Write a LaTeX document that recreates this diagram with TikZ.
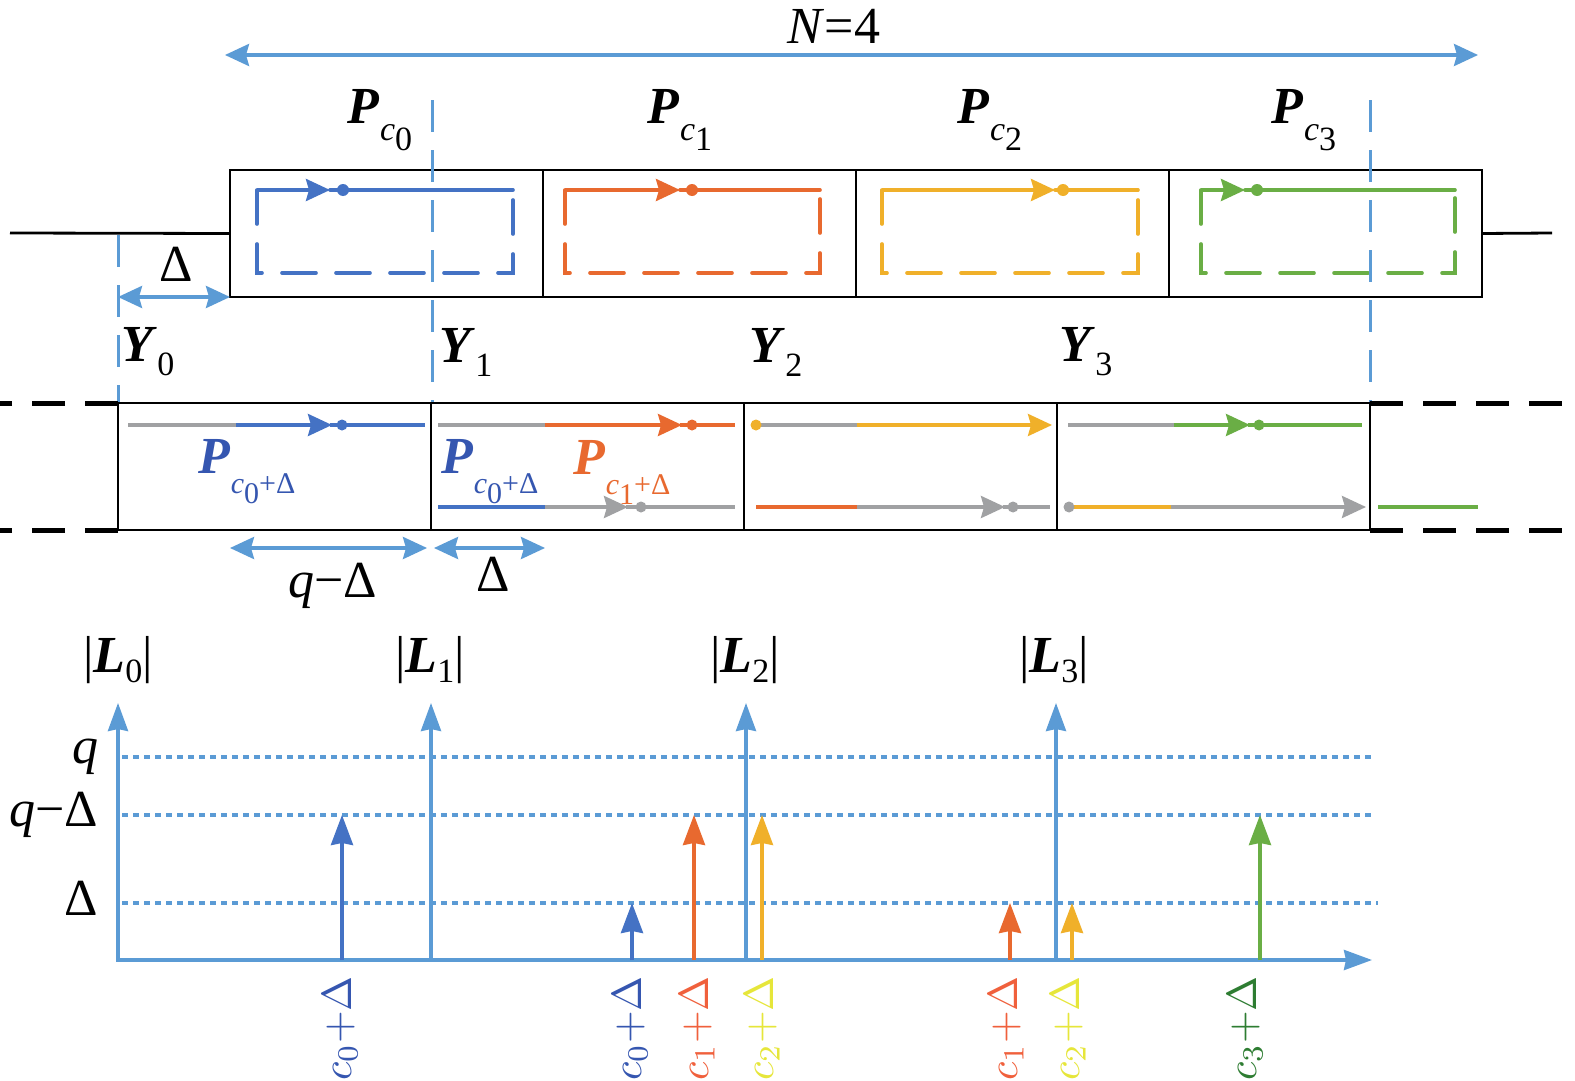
\documentclass[tikz,border=0pt]{standalone}
\usepackage{graphicx}
\usepackage[no-math]{fontspec}
\setmainfont{Liberation Serif}
\usetikzlibrary{arrows.meta}
\definecolor{axb}{HTML}{5B9BD5}
\definecolor{pb}{HTML}{4472C4}
\definecolor{po}{HTML}{E8692F}
\definecolor{py}{HTML}{F0B02A}
\definecolor{pg}{HTML}{6AAE45}
\definecolor{pgr}{HTML}{A0A1A3}
\definecolor{tb}{HTML}{3556B0}
\definecolor{tor}{HTML}{F0603C}
\definecolor{ty}{HTML}{E6E63A}
\definecolor{tg}{HTML}{2E7D32}
\newcommand\fA{\fontsize{52}{60}\selectfont}
\newcommand\fB{\fontsize{34}{40}\selectfont}
\newcommand\fC{\fontsize{30}{36}\selectfont}
\newcommand\bPc[1]{{\fA\textbf{\textit{P}}}\raisebox{-17pt}{\fB\textit{c}\raisebox{-10pt}{#1}}}
\newcommand\bPcd[1]{{\fA\textbf{\textit{P}}}\raisebox{-20pt}{\fC\textit{c}\raisebox{-10pt}{#1}+Δ}}
\newcommand\bY[1]{{\fA\textbf{\textit{Y}}}\raisebox{-14pt}{\fB #1}}
\newcommand\bL[1]{{\fA|\textbf{\textit{L}}\raisebox{-10pt}{\fB #1}|}}
\newcommand\cd[1]{\scalebox{4.2}{\fontsize{10}{12}\selectfont$c_{#1}{+}\Delta$}}
\tikzset{
  boxn/.style={draw=black, line width=2.8pt, minimum width=313pt, minimum height=127pt, anchor=north west, inner sep=0pt, outer sep=0pt},
  vdash/.style={draw=axb, line width=3pt, dash pattern=on 32pt off 18pt},
  bdash/.style={draw=black, line width=5pt, dash pattern=on 33pt off 20pt},
  tipA/.style={-{Stealth[length=24pt,width=22pt,inset=3pt]}},
  tipAx/.style={-{Stealth[length=28pt,width=20pt,inset=2pt]}},
  tipDbl/.style={{Stealth[length=24pt,width=22pt,inset=3pt]}-{Stealth[length=24pt,width=22pt,inset=3pt]}},
  inl/.style={line width=3.6pt},
  midl/.style={line width=3.4pt},
  axl/.style={draw=axb, line width=3.4pt},
  dotl/.style={draw=axb, line width=4pt, dash pattern=on 6pt off 5pt},
  lbl/.style={inner sep=0pt, outer sep=0pt},
}
\begin{document}
\begin{tikzpicture}[x=1pt,y=-1pt]
\useasboundingbox[fill=white] (0,0) rectangle (1575,1081);

% ---------- top N=4 arrow ----------
\coordinate (nL) at (225,55);
\coordinate (nR) at (1478,55);
\draw[axl, tipDbl] (nL) -- (nR);
\node[lbl] (N4) at (834,26) {\fA\textit{N}=4};

% ---------- top boxes ----------
\node[boxn] (T0) at (230,170) {};
\node[boxn] (T1) at (543,170) {};
\node[boxn] (T2) at (856,170) {};
\node[boxn] (T3) at (1169,170) {};
\coordinate (hl) at (10,233);
\coordinate (hr) at (1552,233);
\draw[black, line width=2.8pt] (hl) -- (T0.west);
\draw[black, line width=2.8pt] (T3.east) -- (hr);

\node[lbl] (Pc0) at (380,120) {\bPc{0}};
\node[lbl] (Pc1) at (680,120) {\bPc{1}};
\node[lbl] (Pc2) at (990,120) {\bPc{2}};
\node[lbl] (Pc3) at (1304,120) {\bPc{3}};

% inner loops
\foreach \xa/\xb/\xt/\xd/\col in {257/513/330/343/pb, 565/820/680/692/po, 882/1138/1055/1063/py, 1201/1455/1245/1257/pg}{
  \draw[\col, inl, dash pattern=on 34pt off 20pt, line cap=round] (\xa,190) -- (\xa,273) -- (\xb,273) -- (\xb,190);
  \draw[\col, inl, line cap=round] (\xb,190) -- (\xt,190);
  \draw[\col, inl, tipA] (\xa,190) -- (\xt,190);
  \fill[\col] (\xd,190) circle (6pt);
}

% vertical dashed blue lines
\coordinate (v0a) at (118,235);
\coordinate (v1a) at (432,100);
\coordinate (v4a) at (1370,100);
\draw[vdash] (v0a) -- (118,403);
\draw[vdash] (v1a) -- (432,403);
\draw[vdash] (v4a) -- (1370,403);

% Delta arrow
\draw[axl, tipDbl] (118,297) -- (T0.south west);
\node[lbl] (dl1) at (176,264) {\fA Δ};

% ---------- middle ----------
\node[lbl] (Y0) at (148,352) {\bY{0}};
\node[lbl] (Y1) at (466,352) {\bY{1}};
\node[lbl] (Y2) at (776,352) {\bY{2}};
\node[lbl] (Y3) at (1086,352) {\bY{3}};

\node[boxn] (M0) at (118,403) {};
\node[boxn] (M1) at (431,403) {};
\node[boxn] (M2) at (744,403) {};
\node[boxn] (M3) at (1057,403) {};

\draw[bdash] (M0.north west) -- (0,403);
\draw[bdash] (M0.south west) -- (0,530);
\draw[bdash] (M3.north east) -- (1565,403);
\draw[bdash] (M3.south east) -- (1565,530);

% upper lines
\draw[pgr, midl] (128,425) -- (237,425);
\draw[pb, midl, tipA] (236,425) -- (332,425);
\draw[pb, midl] (330,425) -- (425,425);
\fill[pb] (342,425) circle (5.5pt);

\draw[pgr, midl] (438,425) -- (546,425);
\draw[po, midl, tipA] (545,425) -- (682,425);
\draw[po, midl] (680,425) -- (735,425);
\fill[po] (692,425) circle (5.5pt);

\draw[pgr, midl] (755,425) -- (858,425);
\draw[py, midl, tipA] (857,425) -- (1052,425);
\fill[py] (756,425) circle (5.5pt);

\draw[pgr, midl] (1068,425) -- (1175,425);
\draw[pg, midl, tipA] (1174,425) -- (1250,425);
\draw[pg, midl] (1248,425) -- (1362,425);
\fill[pg] (1259,425) circle (5.5pt);

% lower lines
\draw[pb, midl] (438,507) -- (546,507);
\draw[pgr, midl, tipA] (545,507) -- (628,507);
\draw[pgr, midl] (626,507) -- (735,507);
\fill[pgr] (641,507) circle (5.5pt);

\draw[po, midl] (756,507) -- (858,507);
\draw[pgr, midl, tipA] (857,507) -- (1005,507);
\draw[pgr, midl] (1003,507) -- (1050,507);
\fill[pgr] (1013,507) circle (5.5pt);

\draw[py, midl] (1070,507) -- (1172,507);
\draw[pgr, midl, tipA] (1171,507) -- (1366,507);
\fill[pgr] (1069,507) circle (5.5pt);

\draw[pg, midl] (1378,507) -- (1478,507);

\node[lbl, text=tb] (Pd0) at (247,472) {\bPcd{0}};
\node[lbl, text=tb] (Pd1) at (490,472) {\bPcd{0}};
\node[lbl, text=po] (Pd2) at (622,472) {\bPcd{1}};

% under arrows
\draw[axl, tipDbl] (230,548) -- (427,548);
\draw[axl, tipDbl] (434,548) -- (545,548);
\node[lbl] (qd) at (333,586) {\fA\textit{q}−Δ};
\node[lbl] (dl2) at (493,574) {\fA Δ};

% ---------- bottom chart ----------
\node[lbl] (L0) at (118,660) {\bL{0}};
\node[lbl] (L1) at (430,660) {\bL{1}};
\node[lbl] (L2) at (745,660) {\bL{2}};
\node[lbl] (L3) at (1054,660) {\bL{3}};

\coordinate (O) at (118,960);
\coordinate (Xend) at (1372,960);
\draw[dotl] (122,757) -- (1375,757);
\draw[dotl] (122,815) -- (1375,815);
\draw[dotl] (122,903) -- (1378,903);
\draw[axl, tipAx] (116,960) -- (Xend);
\foreach \x in {118,431,746,1056}{
  \draw[axl, tipAx] (\x,961) -- (\x,703);
}
\node[lbl, anchor=east] (lq) at (98,757) {\fA\textit{q}};
\node[lbl, anchor=east] (lqd) at (98,815) {\fA\textit{q}−Δ};
\node[lbl, anchor=east] (ld) at (98,898) {\fA Δ};

\tikzset{carr/.style={line width=3.4pt, -{Stealth[length=30pt,width=22pt,inset=2pt]}}}
\draw[pb, carr] (342,960) -- (342,815);
\draw[pb, carr] (632,960) -- (632,903);
\draw[po, carr] (694,960) -- (694,815);
\draw[py, carr] (762,960) -- (762,815);
\draw[po, carr] (1010,960) -- (1010,903);
\draw[py, carr] (1072,960) -- (1072,903);
\draw[pg, carr] (1260,960) -- (1260,815);

\node[lbl, rotate=90, anchor=east, text=tb] (r1) at (340,976) {\cd{0}};
\node[lbl, rotate=90, anchor=east, text=tb] (r2) at (630,976) {\cd{0}};
\node[lbl, rotate=90, anchor=east, text=tor] (r3) at (697,976) {\cd{1}};
\node[lbl, rotate=90, anchor=east, text=ty] (r4) at (762,976) {\cd{2}};
\node[lbl, rotate=90, anchor=east, text=tor] (r5) at (1006,976) {\cd{1}};
\node[lbl, rotate=90, anchor=east, text=ty] (r6) at (1068,976) {\cd{2}};
\node[lbl, rotate=90, anchor=east, text=tg] (r7) at (1245,976) {\cd{3}};
\end{tikzpicture}
\end{document}
